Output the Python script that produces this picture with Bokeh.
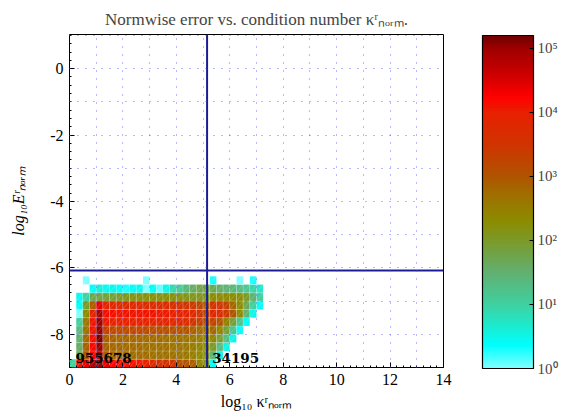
import numpy as np
from bokeh.plotting import figure
from bokeh.models import (ColumnDataSource, LinearColorMapper, LogColorMapper, ColorBar,
                          FixedTicker, SingleIntervalTicker, Span, Label, CustomJSTickFormatter)
from bokeh.embed import file_html
from bokeh.resources import INLINE

# ---- data: log10(count) per histogram cell; rows from bottom (y=-9.0) upward, 29 columns from x=0
bin_w = 0.25
x_start = 0.0
y_start = -9.0
r00 = [1.0, 4.1, 4.4, 4.9, 5.0, 4.4, 4.2, 4.1, 4.1, 4.1, 4.05, 4.0, 3.7, 3.6, 3.55, 3.5, 3.1, 3.0, 2.9, 2.4, 2.1, 0.4, None, None, None, None, None, None, None]
r01 = [None, 1.7, 3.0, 4.2, 4.8, 2.85, 2.8, 2.8, 2.8, 2.75, 2.75, 2.75, 2.7, 2.7, 2.7, 2.7, 2.65, 2.6, 2.5, 2.35, 2.1, 1.5, 0.6, None, None, None, None, None, None]
r02 = [None, 1.6, 2.9, 4.2, 5.0, 2.85, 2.8, 2.8, 2.75, 2.75, 2.75, 2.7, 2.7, 2.7, 2.7, 2.65, 2.65, 2.6, 2.55, 2.4, 2.2, 2.0, 1.3, 0.5, None, None, None, None, None]
r03 = [None, 1.5, 2.8, 4.15, 5.15, 2.9, 2.85, 2.8, 2.8, 2.8, 2.8, 2.75, 2.75, 2.75, 2.7, 2.7, 2.7, 2.65, 2.6, 2.5, 2.3, 2.4, 1.9, 1.3, 0.5, None, None, None, None]
r04 = [None, 1.3, 2.7, 4.1, 5.05, 3.3, 3.2, 3.2, 3.15, 3.2, 3.2, 3.15, 3.1, 3.1, 3.1, 3.05, 3.0, 3.0, 2.9, 2.75, 2.6, 2.8, 2.4, 1.9, 1.2, 0.4, None, None, None]
r05 = [None, 1.0, 2.6, 4.1, 5.0, 4.05, 4.0, 4.0, 4.0, 4.0, 4.0, 3.95, 3.95, 3.9, 3.9, 3.85, 3.8, 3.7, 3.55, 3.3, 3.0, 3.3, 3.0, 2.5, 1.9, 1.2, 0.4, None, None]
r06 = [None, 0.0, 2.3, 3.9, 4.9, 4.15, 4.15, 4.1, 4.1, 4.1, 4.1, 4.1, 4.1, 4.05, 4.05, 4.0, 4.0, 3.9, 3.8, 3.5, 3.2, 3.9, 3.7, 3.4, 3.0, 2.3, 1.5, 0.5, None]
r07 = [None, 0.4, 2.0, 2.9, 4.4, 3.9, 3.8, 3.8, 3.75, 3.8, 3.8, 3.75, 3.7, 3.7, 3.7, 3.65, 3.6, 3.5, 3.4, 3.2, 2.9, 3.6, 3.5, 3.3, 2.8, 2.3, 1.7, 1.0, 0.4]
r08 = [None, 0.45, 1.0, 1.7, 1.8, 1.9, 1.9, 2.0, 2.1, 2.15, 2.2, 2.2, 2.25, 2.2, 2.25, 2.2, 2.2, 2.15, 2.1, 2.1, 2.05, 2.3, 2.35, 2.35, 2.3, 2.25, 2.0, 1.5, 1.0]
r09 = [None, None, None, 0.4, 0.6, 0.45, 0.5, 0.4, 0.3, 0.4, 0.45, 0.0, 0.4, 0.1, 0.5, 0.9, 1.1, 1.4, 1.6, 1.75, 1.8, 1.7, 1.55, 1.45, 1.4, 1.3, 1.15, 0.95, 0.7]
r10 = [None, None, 0.0, None, None, None, None, None, None, None, None, 0.0, None, None, None, None, None, None, None, None, None, 0.3, None, None, None, 0.0, None, 0.3, None]
rows = [r00, r01, r02, r03, r04, r05, r06, r07, r08, r09, r10]

title_text = "Normwise error vs. condition number κʳₙₒᵣₘ."
count_left = "955678"
count_right = "34195"
kappa_threshold = 5.15
error_threshold = -6.08
cbar_ticks = [1, 10, 100, 1000, 10000, 100000]
log_max = 5.2

# ---- palette (colormap of the reference)
anchors = [(0.0, "#80ffff"), (0.35, "#00ffff"), (0.7, "#20e8c8"), (1.0, "#40d0a0"),
           (1.5, "#62b070"), (2.0, "#7c9a28"), (2.3, "#8c8c00"), (2.65, "#9c7400"),
           (3.0, "#b05400"), (3.5, "#d03400"), (4.0, "#e82000"), (4.25, "#ff0000"),
           (4.6, "#cc0000"), (5.0, "#a00000"), (5.2, "#700000")]
def _rgb(h):
    return np.array([int(h[1:3], 16), int(h[3:5], 16), int(h[5:7], 16)], float)
pos = np.array([a[0] for a in anchors])
cols = np.array([_rgb(a[1]) for a in anchors])
palette = []
for t in np.linspace(0, log_max, 256):
    c = [np.interp(t, pos, cols[:, k]) for k in range(3)]
    palette.append("#%02x%02x%02x" % tuple(int(round(v)) for v in c))

xs, ys, vs = [], [], []
for j, row in enumerate(rows):
    for i, v in enumerate(row):
        if v is None:
            continue
        xs.append(x_start + (i + 0.5) * bin_w)
        ys.append(y_start + (j + 0.5) * bin_w)
        vs.append(v)
xs = np.array(xs); ys = np.array(ys)
src = ColumnDataSource(dict(x=xs, y=ys, v=vs,
                            x0=xs - bin_w / 2, y0=ys - bin_w / 2,
                            x1=xs + bin_w / 2, y1=ys + bin_w / 2))

FONT = "Liberation Serif"
p = figure(width=563, height=419, x_range=(0, 14), y_range=(-9.0, 1.03),
           output_backend="svg", toolbar_location=None,
           min_border_left=69, min_border_right=120, min_border_top=34, min_border_bottom=52)
p.title.text = title_text
p.title.align = "center"
p.title.vertical_align = "top"
p.title.text_font = FONT
p.title.text_font_size = "17px"
p.title.text_font_style = "normal"
p.title.standoff = 8

mapper = LinearColorMapper(palette=palette, low=0, high=log_max)
p.rect("x", "y", width=bin_w, height=bin_w, source=src,
       fill_color={"field": "v", "transform": mapper},
       line_color="white", line_alpha=0.3, line_width=0.6)
p.segment("x0", "y0", "x1", "y1", source=src, line_color="white", line_alpha=0.3, line_width=0.6)

p.add_layout(Span(location=kappa_threshold, dimension="height", line_color="#1c1c96", line_width=2))
p.add_layout(Span(location=error_threshold, dimension="width", line_color="#1c1c96", line_width=2))

for x, txt in [(0.22, count_left), (5.34, count_right)]:
    p.add_layout(Label(x=x, y=-8.70, text=txt, text_font="DejaVu Serif", text_font_style="bold",
                       text_font_size="13.5px", text_baseline="alphabetic", text_color="black"))

# axes
p.xaxis.ticker = SingleIntervalTicker(interval=2, num_minor_ticks=8)
p.yaxis.ticker = SingleIntervalTicker(interval=2, num_minor_ticks=8)
plain = CustomJSTickFormatter(code="return tick.toString();")
for ax in (p.xaxis, p.yaxis):
    ax.axis_line_color = None
    ax.major_tick_in = 5
    ax.major_tick_out = 0
    ax.minor_tick_in = 2
    ax.minor_tick_out = 0
    ax.formatter = plain
    ax.major_label_text_font = FONT
    ax.major_label_text_font_size = "16px"
    ax.major_label_text_color = "black"
    ax.axis_label_text_font = FONT
    ax.axis_label_text_font_size = "16px"
    ax.axis_label_text_color = "black"
p.xaxis.axis_label = "log₁₀ κʳₙₒᵣₘ"
p.xaxis.axis_label_text_font_style = "normal"
p.yaxis.axis_label = "log₁₀Eʳₙₒᵣₘ"
p.yaxis.axis_label_text_font_style = "italic"
p.xaxis.major_label_standoff = 6
p.yaxis.major_label_standoff = 6
p.yaxis.axis_label_standoff = 20

p.xgrid.ticker = SingleIntervalTicker(interval=1)
p.ygrid.ticker = SingleIntervalTicker(interval=1)
for g in (p.xgrid, p.ygrid):
    g.grid_line_color = "#5050ff"
    g.grid_line_alpha = 0.8
    g.grid_line_dash = "1 7"
    g.grid_line_width = 1
    g.level = "overlay"

p.outline_line_color = "black"
p.outline_line_width = 1
p.background_fill_color = "white"
p.border_fill_color = "white"

cmap_log = LogColorMapper(palette=palette, low=1, high=10 ** log_max)
cb = ColorBar(color_mapper=cmap_log, ticker=FixedTicker(ticks=cbar_ticks),
              formatter=CustomJSTickFormatter(code="""
                const s = ['\u2070','\u00b9','\u00b2','\u00b3','\u2074','\u2075','\u2076'];
                return '10' + s[Math.round(Math.log10(tick))];"""),
              location=(39, -1), width=51, height=333, margin=0, padding=0,
              bar_line_color="black", bar_line_width=1.2,
              major_tick_line_color="black", major_tick_in=4, major_tick_out=0,
              major_label_text_font=FONT, major_label_text_font_size="15px",
              label_standoff=4, background_fill_color=None)
p.add_layout(cb, "right")

open("out.html", "w").write(file_html(p, INLINE))
